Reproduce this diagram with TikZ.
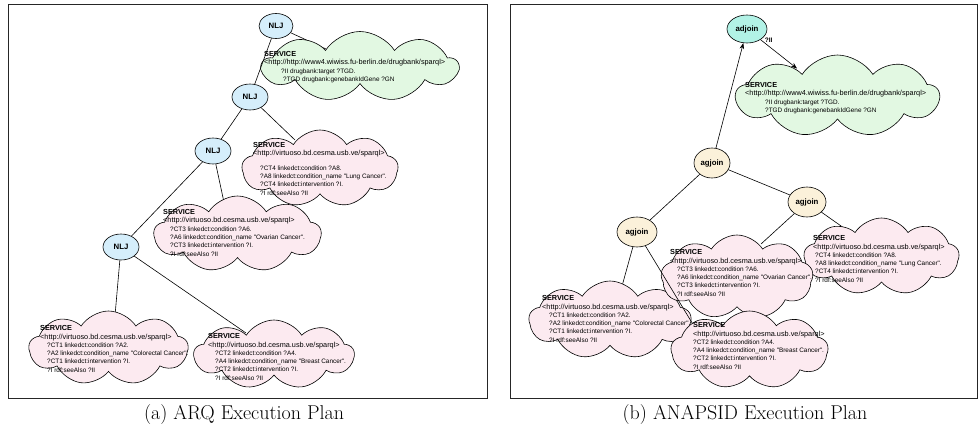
\documentclass[tikz,border=0pt]{standalone}
\usepackage{fontspec}
\newfontfamily\hv{Liberation Sans}
\usetikzlibrary{shapes.symbols,shapes.geometric,arrows.meta}
\definecolor{pinkc}{HTML}{FCEAF0}
\definecolor{greenc}{HTML}{E2F8E2}
\definecolor{nljc}{HTML}{D5EEFB}
\definecolor{adjc}{HTML}{B2F2E6}
\definecolor{agjc}{HTML}{FBF1DA}
\newcommand\ind{\hspace*{7pt}}
\newcommand\svf{\fontsize{7.3}{8.3}\selectfont}
\begin{document}
\begin{tikzpicture}[x=1pt,y=-1pt,
  frame/.style={draw=black!85, line width=0.9pt},
  opnode/.style={draw, ellipse, line width=0.6pt, inner sep=0pt,
    font=\hv\bfseries\fontsize{7.8}{9}\selectfont},
  cloudbox/.style={draw, cloud, cloud puffs=9, cloud puff arc=115, cloud ignores aspect,
    line width=0.6pt, inner sep=0pt},
  svctext/.style={anchor=north west, inner sep=0pt, align=left,
    font=\hv\fontsize{6.4}{8.3}\selectfont},
  edge/.style={line width=0.6pt},
  arr/.style={line width=0.6pt, -{Stealth[length=6pt,width=4.5pt]}},
  lbl/.style={font=\hv\bfseries\fontsize{6.5}{8}\selectfont, inner sep=0pt},
  capt/.style={font=\fontsize{20}{24}\selectfont, anchor=base, inner sep=0pt}
]
\useasboundingbox (0,0) rectangle (979,428);
% frames
\draw[frame] (8,4) rectangle (487,398);
\draw[frame] (510,4) rectangle (977,398);

% connector ends (hidden under the cloud fills)
\coordinate (g1in) at (326,49);
\coordinate (c4lin) at (295,140);
\coordinate (c3lin) at (225,207);
\coordinate (c1lin) at (114,327);
\coordinate (c2lin) at (246,333);
\coordinate (c1rin) at (619,297);
\coordinate (c2rin) at (697,331);
\coordinate (c3rin) at (761,244);
\coordinate (c4rin) at (851,233);
\coordinate (g2top) at (797,68.5);

% ---------------- operator nodes ----------------
\node[opnode, fill=nljc, minimum width=34, minimum height=25] (n1) at (276,26) {NLJ};
\node[opnode, fill=nljc, minimum width=36, minimum height=26] (n2) at (250,97) {NLJ};
\node[opnode, fill=nljc, minimum width=36, minimum height=26] (n3) at (213,151) {NLJ};
\node[opnode, fill=nljc, minimum width=36, minimum height=26] (n4) at (121,247) {NLJ};
\node[opnode, fill=adjc, minimum width=40, minimum height=28] (adj) at (747,29) {adjoin};
\node[opnode, fill=agjc, minimum width=36, minimum height=30] (agt) at (712,163) {agjoin};
\node[opnode, fill=agjc, minimum width=38, minimum height=30] (agr) at (807,202) {agjoin};
\node[opnode, fill=agjc, minimum width=40, minimum height=30] (agl) at (637,232) {agjoin};

\draw[edge] (n1) -- (g1in);
\draw[edge] (n2) -- (n3);
\draw[edge] (n2) -- (c4lin);
\draw[edge] (n3) -- (n4);
\draw[edge] (n3) -- (c3lin);
\draw[edge] (n4) -- (c1lin);
\draw[edge] (n4) -- (c2lin);
\draw[edge] (agl) -- (c1rin);
\draw[edge] (agr) -- (c3rin);
\draw[edge] (agr) -- (c4rin);

% ---------------- left panel clouds ----------------
\node[cloudbox, fill=greenc, minimum width=196, minimum height=70] (g1) at (360,66.5) {};
\node[svctext] (tg1) at (264,51.4) {{\svf\bfseries SERVICE}\\{\svf <http://http://www4.wiwiss.fu-berlin.de/drugbank/sparql>}\\
\hspace*{17pt}?II drugbank:target ?TGD.\\\hspace*{19pt}?TGD drugbank:genebankIdGene ?GN};
\draw[edge] (n1) -- (n2);

\node[cloudbox, fill=pinkc, minimum width=156, minimum height=77] (c4l) at (320,168.5) {};
\node[svctext] (tc4l) at (253,142.4) {{\svf\bfseries SERVICE}\\{\svf <http://virtuoso.bd.cesma.usb.ve/sparql>}\\[6pt]
\ind?CT4 linkedct:condition ?A8.\\\ind?A8 linkedct:condition\_name "Lung Cancer".\\\ind?CT4 linkedct:intervention ?I.\\\ind?I rdf:seeAlso ?II};

\node[cloudbox, fill=pinkc, minimum width=167, minimum height=76] (c3l) at (237.5,234) {};
\node[svctext] (tc3l) at (163,209.4) {{\svf\bfseries SERVICE}\\{\svf <http://virtuoso.bd.cesma.usb.ve/sparql>}\\
\ind?CT3 linkedct:condition ?A6.\\\ind?A6 linkedct:condition\_name "Ovarian Cancer".\\\ind?CT3 linkedct:intervention ?I.\\\ind?I rdf:seeAlso ?II};

\node[cloudbox, fill=pinkc, minimum width=159, minimum height=74] (c1l) at (108.5,348) {};
\node[svctext] (tc1l) at (40,325.4) {{\svf\bfseries SERVICE}\\{\svf <http://virtuoso.bd.cesma.usb.ve/sparql>}\\
\ind?CT1 linkedct:condition ?A2.\\\ind?A2 linkedct:condition\_name "Colorectal Cancer".\\\ind?CT1 linkedct:intervention ?I.\\\ind?I rdf:seeAlso ?II};

\node[cloudbox, fill=pinkc, minimum width=160, minimum height=69] (c2l) at (274,354.5) {};
\node[svctext] (tc2l) at (208,333.4) {{\svf\bfseries SERVICE}\\{\svf <http://virtuoso.bd.cesma.usb.ve/sparql>}\\
\ind?CT2 linkedct:condition ?A4.\\\ind?A4 linkedct:condition\_name "Breast Cancer".\\\ind?CT2 linkedct:intervention ?I.\\\ind?I rdf:seeAlso ?II};

% ---------------- right panel clouds ----------------
\node[cloudbox, fill=greenc, minimum width=203, minimum height=82] (g2) at (837.5,96) {};
\node[svctext] (tg2) at (745,82.4) {{\svf\bfseries SERVICE}\\{\svf <http://http://www4.wiwiss.fu-berlin.de/drugbank/sparql>}\\
\hspace*{20pt}?II drugbank:target ?TGD.\\\hspace*{20pt}?TGD drugbank:genebankIdGene ?GN};

\node[cloudbox, fill=pinkc, minimum width=162, minimum height=78] (c1r) at (610,320) {};
\node[svctext] (tc1r) at (542,295.4) {{\svf\bfseries SERVICE}\\{\svf <http://virtuoso.bd.cesma.usb.ve/sparql>}\\
\ind?CT1 linkedct:condition ?A2.\\\ind?A2 linkedct:condition\_name "Colorectal Cancer".\\\ind?CT1 linkedct:intervention ?I.\\\ind?I rdf:seeAlso ?II};

\node[cloudbox, fill=pinkc, minimum width=155, minimum height=77] (c4r) at (881.5,256.5) {};
\node[svctext] (tc4r) at (813,235.4) {{\svf\bfseries SERVICE}\\{\svf <http://virtuoso.bd.cesma.usb.ve/sparql>}\\
\hspace*{2pt}?CT4 linkedct:condition ?A8.\\\hspace*{2pt}?A8 linkedct:condition\_name "Lung Cancer".\\\hspace*{2pt}?CT4 linkedct:intervention ?I.\\\hspace*{2pt}?I rdf:seeAlso ?II};

\node[cloudbox, fill=pinkc, minimum width=152, minimum height=84] (c3r) at (737,277) {};
\node[svctext] (tc3r) at (670,249.4) {{\svf\bfseries SERVICE}\\{\svf <http://virtuoso.bd.cesma.usb.ve/sparql>}\\
\ind?CT3 linkedct:condition ?A6.\\\ind?A6 linkedct:condition\_name "Ovarian Cancer".\\\ind?CT3 linkedct:intervention ?I.\\\ind?I rdf:seeAlso ?II};

\draw[edge] (agl) -- (c2rin);
\node[cloudbox, fill=pinkc, minimum width=157, minimum height=78] (c2r) at (749.5,350) {};
\node[svctext] (tc2r) at (693,322.4) {{\svf\bfseries SERVICE}\\{\svf <http://virtuoso.bd.cesma.usb.ve/sparql>}\\
?CT2 linkedct:condition ?A4.\\?A4 linkedct:condition\_name "Breast Cancer".\\?CT2 linkedct:intervention ?I.\\?I rdf:seeAlso ?II};

\draw[arr] (adj) -- node[lbl, pos=0, anchor=west, xshift=4pt, yshift=-1pt] {?II} (g2top);
\draw[arr] (agt) -- (adj);
\draw[edge] (agt) -- (agr);
\draw[edge] (agt) -- (agl);

% captions
\node[capt] (capa) at (244,419) {(a) ARQ Execution Plan};
\node[capt] (capb) at (745,419) {(b) ANAPSID Execution Plan};
\end{tikzpicture}
\end{document}
